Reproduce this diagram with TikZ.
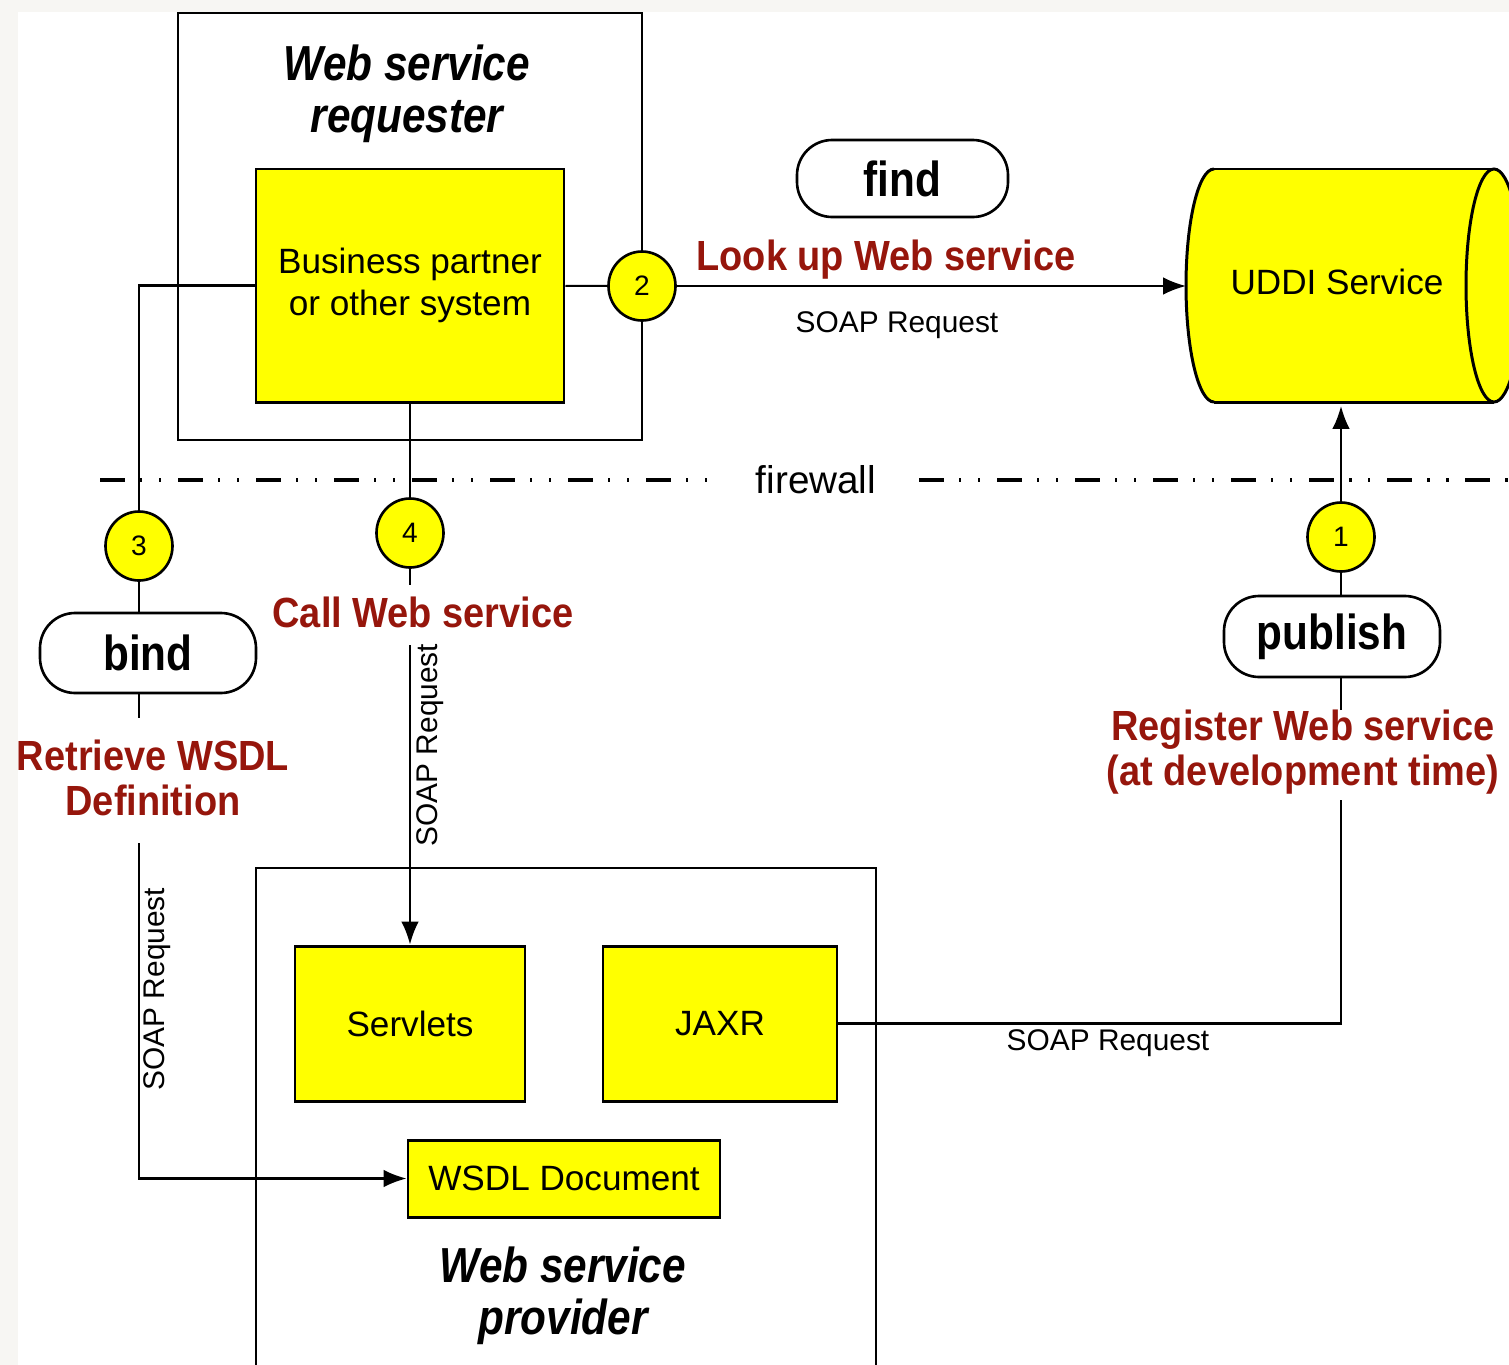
\documentclass[tikz,border=0pt]{standalone}
\usepackage{fontspec}
\setmainfont{Liberation Sans}
\newfontfamily\condfont{Liberation Sans}[FakeStretch=0.86]
\newfontfamily\actfont{Liberation Sans}[FakeStretch=0.9]
\usetikzlibrary{shapes.geometric,arrows.meta}
\definecolor{boxyellow}{RGB}{255,255,0}
\definecolor{actred}{RGB}{150,22,12}
\definecolor{pagegrey}{RGB}{247,246,243}

\begin{document}
\begin{tikzpicture}[>={Latex[length=6.5pt,width=5pt]}, line width=0.6pt,
    frame/.style={draw, line width=0.75pt, inner sep=0pt},
    comp/.style={draw, line width=0.85pt, fill=boxyellow, inner sep=0pt, align=center, font=\fontsize{10}{11.8}\selectfont},
    role/.style={draw, line width=0.75pt, rounded corners=10pt, inner sep=0pt, font=\condfont\fontsize{14}{16}\selectfont\bfseries},
    num/.style={ellipse, draw, line width=0.75pt, fill=boxyellow, minimum width=0.67cm, minimum height=0.69cm, inner sep=0pt, font=\fontsize{8}{9}\selectfont},
    act/.style={text=actred, align=center, font=\actfont\fontsize{12}{12.8}\selectfont\bfseries},
    soap/.style={inner sep=0pt, font=\fontsize{8.5}{10}\selectfont},
    title/.style={align=center, font=\condfont\fontsize{14}{14.8}\selectfont\bfseries\itshape},
    firewall/.style={line width=0.9pt, dash pattern=on 7.1pt off 4.3pt on 0.6pt off 4.8pt on 0.6pt off 4.8pt}]
  \useasboundingbox (0,0) rectangle (15.09,-13.65);
  \clip (0,0) rectangle (15.09,-13.65);
  \fill[pagegrey] (0,0) rectangle (15.09,-13.65);
  \fill[white] (0.18,-0.12) rectangle (15.09,-13.65);

  % requester side
  \node[frame, minimum width=4.64cm, minimum height=4.27cm] (req) at (4.10,-2.265) {};
  \node[title] (reqt) at (4.07,-0.94) {Web service\\requester};
  \node[comp, minimum width=3.08cm, minimum height=2.33cm] (bp) at (4.10,-2.855) {Business partner\\or other system};

  % registry
  \fill[boxyellow] (12.14,-1.69) -- (14.94,-1.69) arc[start angle=90, end angle=-90, x radius=0.28, y radius=1.165]
    -- (12.14,-4.02) arc[start angle=270, end angle=90, x radius=0.28, y radius=1.165] -- cycle;
  \draw[line width=0.85pt] (12.14,-1.69) -- (14.94,-1.69) (12.14,-4.02) -- (14.94,-4.02);
  \draw[line width=0.85pt] (14.94,-2.855) ellipse [x radius=0.28, y radius=1.165];
  \draw[line width=0.85pt] (12.14,-1.69) arc[start angle=90, end angle=270, x radius=0.28, y radius=1.165];
  \node[font=\fontsize{10}{12}\selectfont] (uddi) at (13.37,-2.82) {UDDI Service};
  \coordinate (uddiw) at (11.86,-2.86);
  \coordinate (uddis) at (13.41,-4.06);

  % provider side
  \node[frame, minimum width=6.20cm, minimum height=5.60cm] (prov) at (5.66,-11.48) {};
  \node[comp, minimum width=2.30cm, minimum height=1.55cm] (serv) at (4.10,-10.235) {Servlets};
  \node[comp, minimum width=2.34cm, minimum height=1.55cm] (jaxr) at (7.20,-10.235) {JAXR};
  \node[comp, minimum width=3.12cm, minimum height=0.77cm] (wsdl) at (5.64,-11.785) {WSDL Document};
  \node[title] (provt) at (5.63,-12.96) {Web service\\provider};

  % firewall
  \node[inner ysep=0pt, inner xsep=0.42cm, font=\fontsize{11}{13}\selectfont] (fw) at (8.16,-4.80) {firewall};
  \draw[firewall] (1.00,-4.80) -- (fw.west);
  \draw[firewall] (fw.east) -- (15.09,-4.80);

  % roles and steps
  \node[role, minimum width=2.11cm, minimum height=0.77cm] (find) at (9.025,-1.785) {find};
  \node[role, minimum width=2.16cm, minimum height=0.80cm] (bind) at (1.48,-6.53) {bind};
  \node[role, minimum width=2.16cm, minimum height=0.81cm] (pub) at (13.32,-6.365) {publish};
  \node[num] (c1) at (13.41,-5.37) {1};
  \node[num] (c2) at (6.42,-2.86) {2};
  \node[num] (c3) at (1.39,-5.46) {3};
  \node[num] (c4) at (4.10,-5.33) {4};

  \node[act] (lookup) at (8.86,-2.60) {Look up Web service};
  \node[act] (call) at (4.23,-6.12) {Call Web service};
  \node[act] (retr) at (1.53,-7.78) {Retrieve WSDL\\Definition};
  \node[act] (reg) at (13.03,-7.52) {Register Web service\\(at development time)};

  \node[soap] (s2) at (8.97,-3.25) {SOAP Request};
  \node[soap, rotate=90] (s3) at (1.57,-9.89) {SOAP Request};
  \node[soap, rotate=90] (s4) at (4.30,-7.45) {SOAP Request};
  \node[soap] (s1) at (11.08,-10.43) {SOAP Request};

  \coordinate (r1) at (1.39,-7.18);
  \coordinate (r2) at (1.39,-8.43);
  \coordinate (k1) at (4.10,-5.85);
  \coordinate (k2) at (4.10,-6.45);
  \coordinate (p1) at (13.41,-7.10);
  \coordinate (p2) at (13.41,-8.00);

  % connectors
  \draw (bp) -- (c2);
  \draw [->] (c2) -- (uddiw);
  \draw (bp.west) -| (c3);
  \draw (c3) -- (c3 |- bind.north);
  \draw (c3 |- bind.south) -- (r1);
  \draw [->] (r2) |- (wsdl);
  \draw (bp.south) -- (c4);
  \draw (c4) -- (k1);
  \draw [->] (k2) -- (serv);
  \draw (jaxr) -| (p2);
  \draw (p1) -- (c1 |- pub.south);
  \draw (c1 |- pub.north) -- (c1);
  \draw [->] (c1) -- (uddis);
\end{tikzpicture}
\end{document}
